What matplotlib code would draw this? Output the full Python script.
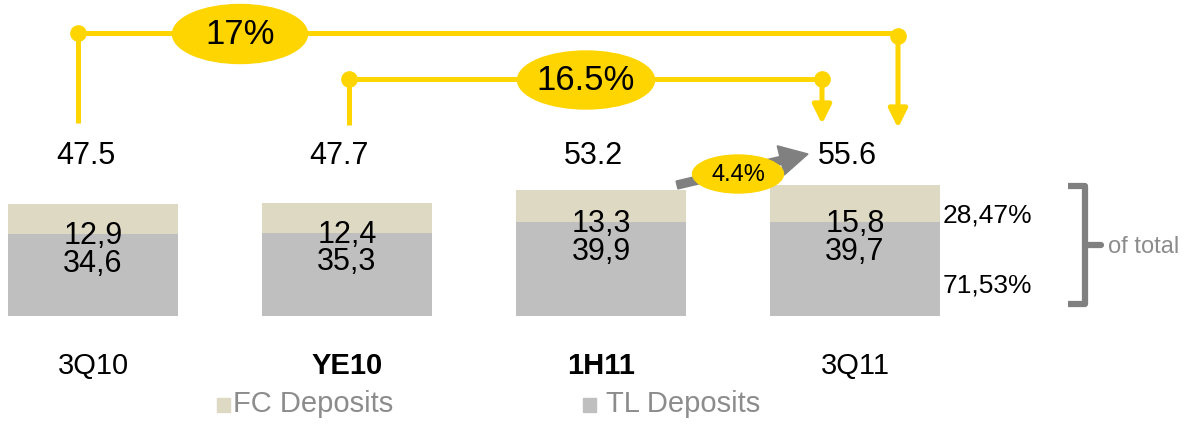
import matplotlib
matplotlib.use("Agg")
import matplotlib.pyplot as plt
from matplotlib.patches import Ellipse, Rectangle
from matplotlib.path import Path
from matplotlib.patches import PathPatch

categories = ["3Q10", "YE10", "1H11", "3Q11"]
fc_deposits = [12.9, 12.4, 13.3, 15.8]
tl_deposits = [34.6, 35.3, 39.9, 39.7]
totals = [47.5, 47.7, 53.2, 55.6]
growth_long = "17%"
growth_ytd = "16.5%"
growth_qoq = "4.4%"
share_labels = ["28,47%", "71,53%"]

yellow = "#FFD500"
fc_col = "#DDD9C3"
tl_col = "#BFBFBF"
gray = "#808080"
font = ["Liberation Sans", "DejaVu Sans"]

fig = plt.figure(figsize=(11.9, 4.24), dpi=100)

# bars: 254 px per category, bar bottoms at pixel row 316, 2.36 px per unit
ax = fig.add_axes([0, 0, 1, 1])
ax.set_xlim(-93 / 254, (1190 - 93) / 254)
ax.set_ylim(-(424 - 316) / 2.36, 316 / 2.36)
ax.axis("off")

x = range(len(categories))
ax.bar(x, tl_deposits, width=0.67, color=tl_col, zorder=2)
ax.bar(x, fc_deposits, bottom=tl_deposits, width=0.67, color=fc_col, zorder=2)

weights = ["normal", "bold", "bold", "normal"]
for i in x:
    ax.text(i, tl_deposits[i] - 0.8, f"{fc_deposits[i]:.1f}".replace(".", ","),
            ha="center", va="center", fontsize=22, family=font, zorder=3)
    ax.text(i, tl_deposits[i] - 12.6, f"{tl_deposits[i]:.1f}".replace(".", ","),
            ha="center", va="center", fontsize=22, family=font, zorder=3)
    ax.text(i - 0.03, 68, f"{totals[i]:.1f}", ha="center", va="center",
            fontsize=22, family=font)
    ax.text(i, -21, categories[i], ha="center", va="center", fontsize=21,
            family=font, fontweight=weights[i])

# overlay in pixel coordinates for the annotations
ov = fig.add_axes([0, 0, 1, 1])
ov.set_xlim(0, 1190)
ov.set_ylim(424, 0)
ov.axis("off")
ov.patch.set_alpha(0)

lw = 3.6
# 17% bracket
ov.plot([78, 78], [33, 123], color=yellow, lw=lw, solid_capstyle="butt")
ov.plot([78, 898], [33, 33], color=yellow, lw=lw)
ov.plot([78, 898], [33, 36], "o", color=yellow, ms=11, ls="none")
ov.annotate("", xy=(898, 128), xytext=(898, 36),
            arrowprops=dict(arrowstyle="-|>", color=yellow, lw=lw,
                            mutation_scale=28, shrinkA=0, shrinkB=0))
ov.add_patch(Ellipse((240, 34), 135, 59, color=yellow, zorder=3))
ov.text(240, 35, growth_long, ha="center", va="center", fontsize=25,
        family=font, zorder=4)

# 16.5% bracket
ov.plot([349, 349], [79, 125], color=yellow, lw=lw, solid_capstyle="butt")
ov.plot([349, 822], [79, 79], color=yellow, lw=lw)
ov.plot([349, 822], [79, 79], "o", color=yellow, ms=11, ls="none")
ov.annotate("", xy=(822, 124), xytext=(822, 79),
            arrowprops=dict(arrowstyle="-|>", color=yellow, lw=lw,
                            mutation_scale=28, shrinkA=0, shrinkB=0))
ov.add_patch(Ellipse((586, 80), 137, 58, color=yellow, zorder=3))
ov.text(586, 81, growth_ytd, ha="center", va="center", fontsize=25,
        family=font, zorder=4)

# 4.4% arrow
ov.arrow(677, 185, 131, -31, width=8, head_width=30, head_length=28,
         length_includes_head=True, color=gray, zorder=2)
ov.add_patch(Ellipse((738, 174), 91, 38, color=yellow, zorder=3))
ov.text(738, 175, growth_qoq, ha="center", va="center", fontsize=17,
        family=font, zorder=4)

# shares and bracket
ov.text(943, 215, share_labels[0], ha="left", va="center", fontsize=19, family=font)
ov.text(943, 285, share_labels[1], ha="left", va="center", fontsize=19, family=font)
verts = [(1068, 186), (1085, 186), (1085, 304), (1068, 304)]
ov.add_patch(PathPatch(Path(verts), fill=False, edgecolor=gray, lw=4.5,
                       joinstyle="round", capstyle="butt"))
ov.plot([1085, 1101], [245, 245], color=gray, lw=4.5, solid_capstyle="round")
ov.text(1108, 247, "of total", ha="left", va="center", fontsize=17,
        family=font, color="#8C8C8C")

# legend
ov.add_patch(Rectangle((217, 398), 13, 14, color=fc_col))
ov.text(233, 404, "FC Deposits", ha="left", va="center", fontsize=21,
        family=font, color="#8C8C8C")
ov.add_patch(Rectangle((583, 398), 13, 14, color=tl_col))
ov.text(606, 404, "TL Deposits", ha="left", va="center", fontsize=21,
        family=font, color="#8C8C8C")

fig.savefig("out.png", dpi=100)
